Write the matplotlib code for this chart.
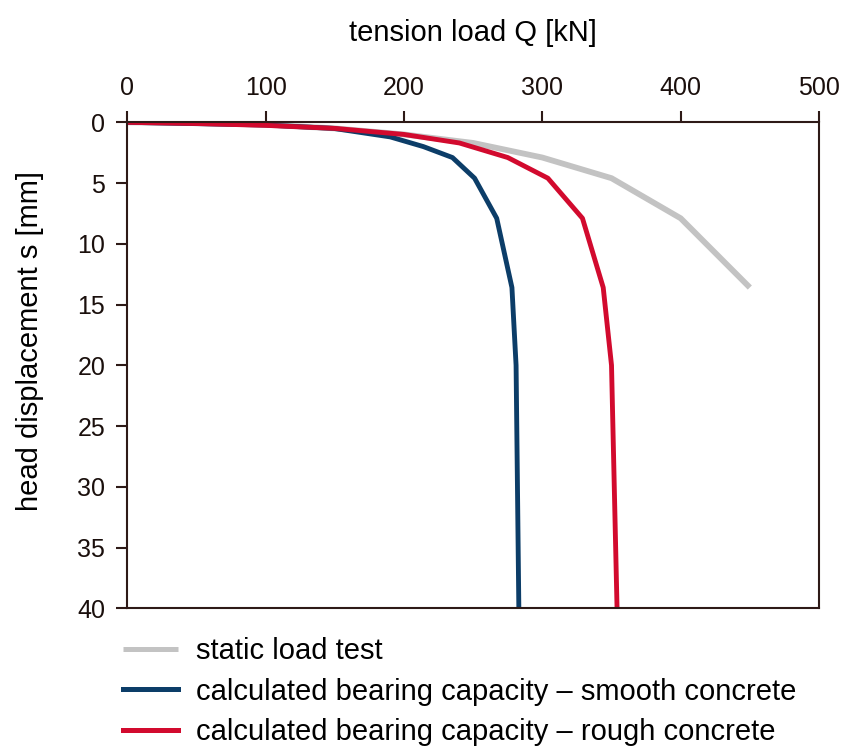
import matplotlib

matplotlib.use("Agg")
import matplotlib.pyplot as plt

plt.rcParams.update({
    "font.family": ["Liberation Sans", "DejaVu Sans"],
    "font.size": 21,
})

EDGE = "#2e1a17"

# static load test
test_q = [0, 50, 100, 150, 200, 250, 300, 350, 400, 450]
test_s = [0, 0.05, 0.2, 0.5, 1.0, 1.7, 2.9, 4.6, 7.9, 13.6]

# calculated bearing capacity - smooth concrete
smooth_q = [0, 100, 149, 190, 214, 235, 251, 267, 278, 281, 283]
smooth_s = [0, 0.22, 0.5, 1.2, 2.0, 2.9, 4.6, 7.9, 13.6, 20, 40]

# calculated bearing capacity - rough concrete
rough_q = [0, 50, 100, 150, 200, 240, 275, 304, 329, 344, 350, 354]
rough_s = [0, 0.1, 0.25, 0.5, 1.0, 1.7, 2.9, 4.6, 7.9, 13.6, 20, 40]

fig = plt.figure(figsize=(8.45, 7.49), dpi=100)
ax = fig.add_axes([0.1508, 0.1879, 0.8184, 0.6488])

ax.plot(test_q, test_s, color="#c3c3c3", linewidth=4.2, label="static load test",
        solid_capstyle="butt")
ax.plot(smooth_q, smooth_s, color="#0c3d68", linewidth=3.5,
        label="calculated bearing capacity \u2013 smooth concrete")
ax.plot(rough_q, rough_s, color="#d20a2e", linewidth=3.5,
        label="calculated bearing capacity \u2013 rough concrete")

ax.set_xlim(0, 500)
ax.set_ylim(40, 0)
ax.set_xticks([0, 100, 200, 300, 400, 500])
ax.set_yticks([0, 5, 10, 15, 20, 25, 30, 35, 40])
ax.xaxis.tick_top()
ax.xaxis.set_label_position("top")
ax.set_xlabel("tension load Q [kN]", labelpad=25)
ax.set_ylabel("head displacement s [mm]")
ax.yaxis.set_label_coords(-0.120, 0.55)

for sp in ax.spines.values():
    sp.set_color(EDGE)
    sp.set_linewidth(1.5)
ax.tick_params(axis="both", direction="out", length=8, width=1.5, color=EDGE,
               labelcolor="#1a0f0c", labelsize=18, pad=8)

leg = ax.legend(loc="upper left", bbox_to_anchor=(0.1456, 0.149),
                bbox_transform=fig.transFigure, frameon=False,
                handlelength=1.88, handletextpad=0.62, labelspacing=0.42,
                borderpad=0, borderaxespad=0)
for line in leg.get_lines():
    line.set_linewidth(3.6)

fig.savefig("out.png", dpi=100)
plt.close(fig)
